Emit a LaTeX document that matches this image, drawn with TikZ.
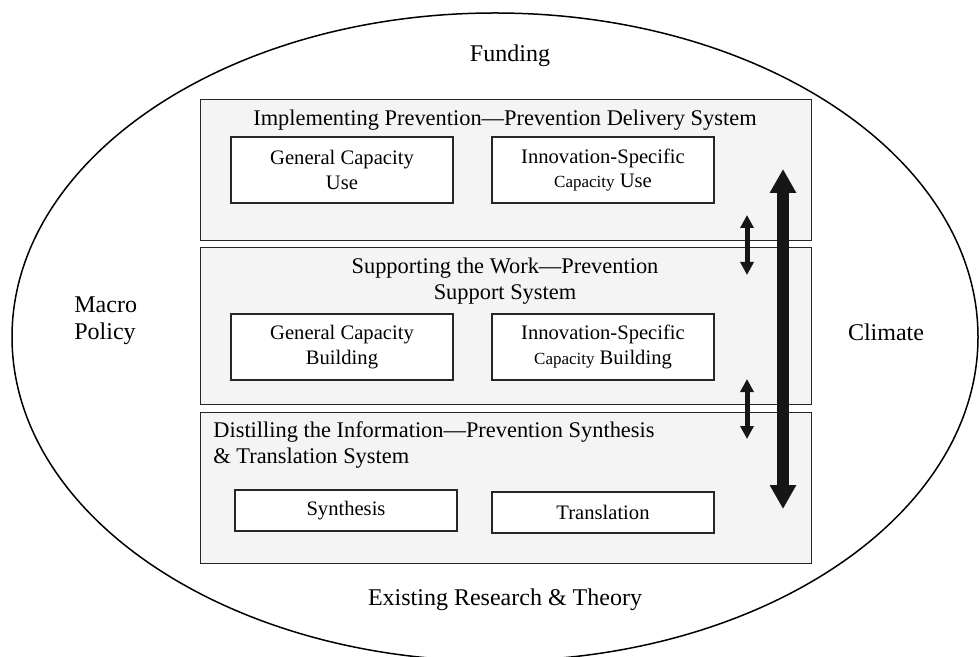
\documentclass[tikz,border=0pt]{standalone}
\usepackage{fontspec}
\setmainfont{Liberation Serif}
\usetikzlibrary{arrows.meta,positioning}
\definecolor{panelgray}{RGB}{244,244,244}
\definecolor{arrowblack}{RGB}{22,22,22}
\newcommand{\capword}[1]{{\fontsize{8.5}{10}\selectfont #1}}

\begin{document}
\begin{tikzpicture}[x=0.5pt,y=-0.5pt,
  every node/.style={inner sep=0pt},
  outerlabel/.style={font=\fontsize{12}{13.5}\selectfont,align=center},
  panel/.style={draw=black!85,line width=0.7pt,fill=panelgray,minimum width=305.5pt,anchor=north west},
  paneltitle/.style={font=\fontsize{11.2}{13.3}\selectfont,align=center},
  capbox/.style={draw=black!85,line width=0.6pt,fill=white,minimum width=111pt,minimum height=33pt,align=center,font=\fontsize{10.3}{12.2}\selectfont},
  linkarr/.style={draw=arrowblack,line width=2.5pt,{Triangle[length=6.5pt,width=6.5pt]}-{Triangle[length=6.5pt,width=6.5pt]}},
  bigarr/.style={draw=arrowblack,line width=6.3pt,{Triangle[length=12pt,width=12.5pt]}-{Triangle[length=12pt,width=12.5pt]}}
]
\useasboundingbox (0,0) rectangle (979,657);
\clip (0,0) rectangle (979,657);
% context
\draw[line width=0.75pt] (495,337) ellipse [x radius=483, y radius=324];
\node[outerlabel] (funding) at (510,56) {Funding};
\node[outerlabel] (research) at (505,600) {Existing Research \& Theory};
\node[outerlabel,align=left,anchor=west] (macro) at (74,321) {Macro\\Policy};
\node[outerlabel] (climate) at (886,332) {Climate};
% delivery system
\node[panel,minimum height=70.5pt] (deliv) at (200,99) {};
\node[paneltitle] (delivtitle) at (505,120) {Implementing Prevention---Prevention Delivery System};
\node[capbox] (gcuse) at (342,170) {General Capacity\\Use};
\node[capbox] (isuse) at (603,170) {Innovation-Specific\\\capword{Capacity} Use};
% support system
\node[panel,minimum height=78.5pt] (support) at (200,247) {};
\node[paneltitle] (supporttitle) at (505,281) {Supporting the Work---Prevention\\Support System};
\node[capbox] (gcbuild) at (342,347) {General Capacity\\Building};
\node[capbox] (isbuild) at (603,347) {Innovation-Specific\\\capword{Capacity} Building};
% synthesis system
\node[panel,minimum height=75.5pt] (synth) at (200,412) {};
\node[paneltitle,align=left,anchor=west] (synthtitle) at (213,445) {Distilling the Information---Prevention Synthesis\\\& Translation System};
\node[capbox,minimum height=20.5pt] (synthbox) at (346,510.5) {Synthesis};
\node[capbox,minimum height=20.5pt] (transbox) at (603,512.5) {Translation};
% arrows
\coordinate (lt1) at (747,215);
\coordinate (lb1) at (747,275);
\coordinate (lt2) at (747,379);
\coordinate (lb2) at (747,439);
\coordinate (bigtop) at (783,169);
\coordinate (bigbot) at (783,509);
\draw[linkarr] (lt1) -- (lb1);
\draw[linkarr] (lt2) -- (lb2);
\draw[bigarr] (bigtop) -- (bigbot);
\end{tikzpicture}
\end{document}
